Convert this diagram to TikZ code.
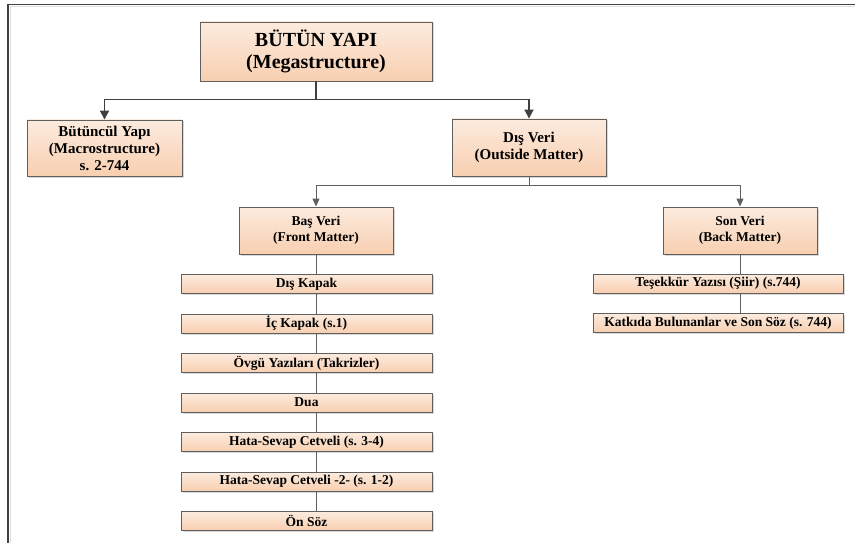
\documentclass[tikz,border=0pt]{standalone}
\usepackage{fontspec}
\setmainfont{Liberation Serif}
\usetikzlibrary{arrows.meta,positioning,shadows,calc}
\definecolor{yapiPeachTop}{RGB}{252,235,222}
\definecolor{yapiPeachBottom}{RGB}{248,207,176}
\definecolor{yapiLine}{RGB}{64,64,64}
\definecolor{yapiEdge}{RGB}{95,95,95}

\begin{document}
\begin{tikzpicture}[x=1pt, y=-1pt,
  node distance=19.6pt,
  box/.style={draw=yapiEdge, line width=0.9pt, top color=yapiPeachTop,
              bottom color=yapiPeachBottom, align=center, inner sep=0pt,
              drop shadow={shadow xshift=1.5pt, shadow yshift=-1.5pt,
                           fill=black!30, opacity=0.5}},
  part/.style={box, minimum width=154pt, minimum height=47pt,
               font=\bfseries\fontsize{13.5}{16.5}\selectfont},
  item/.style={box, minimum height=19pt,
               font=\bfseries\fontsize{13.5}{16}\selectfont},
  trunk/.style={draw=yapiLine, line width=1.8pt},
  branch/.style={draw=yapiEdge, line width=0.9pt},
  arrow/.style={-{Triangle[length=8pt, width=7pt]}},
  bigarrow/.style={-{Triangle[length=9pt, width=9pt]}}
]
\useasboundingbox (0,0) rectangle (855,543);
% frame
\draw[black!12, line width=1pt] (10.5,543) -- (10.5,7) -- (855,7);
\draw[yapiLine, line width=1.5pt] (8,543) -- (8,4.5) -- (855,4.5);

% upper levels
\node[box, minimum width=232pt, minimum height=59pt,
      font=\bfseries\fontsize{20}{22.5}\selectfont] (mega) at (316,51.5)
      {BÜTÜN YAPI\\(Megastructure)};
\node[box, minimum width=155pt, minimum height=56pt,
      font=\bfseries\fontsize{15}{17}\selectfont] (macro) at (104.5,148)
      {Bütüncül Yapı\\(Macrostructure)\\s. 2-744};
\node[box, minimum width=154pt, minimum height=57pt,
      font=\bfseries\fontsize{15}{17}\selectfont] (outside) at (529,147.5)
      {Dış Veri\\(Outside Matter)};
\node[part] (front) at (316,230.5) {Baş Veri\\(Front Matter)};
\node[part] (back) at (740,230.5) {Son Veri\\(Back Matter)};

% front matter items
\node[item, minimum width=251pt] (diskapak) at (306.5,284) {Dış Kapak};
\node[item, minimum width=251pt, below=of diskapak] (ickapak) {İç Kapak (s.1)};
\node[item, minimum width=251pt, below=of ickapak] (ovgu) {Övgü Yazıları (Takrizler)};
\node[item, minimum width=251pt, below=of ovgu] (dua) {Dua};
\node[item, minimum width=251pt, below=of dua] (hata) {Hata-Sevap Cetveli (s. 3-4)};
\node[item, minimum width=251pt, below=of hata] (hataiki) {Hata-Sevap Cetveli -2- (s. 1-2)};
\node[item, minimum width=251pt, below=of hataiki] (onsoz) {Ön Söz};

% back matter items
\node[item, minimum width=250pt] (tesekkur) at (718,283.5) {Teşekkür Yazısı (Şiir) (s.744)};
\node[item, minimum width=250pt, below=of tesekkur] (katkida) {Katkıda Bulunanlar ve Son Söz (s. 744)};

% connectors
\draw[trunk] (mega.south) -- ++(0,18) coordinate (split);
\draw[trunk, bigarrow] (split) -| (macro.north);
\draw[trunk, bigarrow] (split) -| (outside.north);
\draw[branch] (outside.south) -- ++(0,9) coordinate (splitout);
\draw[branch, arrow] (splitout) -| (front.north);
\draw[branch, arrow] (splitout) -| (back.north);

\draw[branch] (front.south) -- (front.south |- diskapak.north);
\foreach \a/\b in {diskapak/ickapak, ickapak/ovgu, ovgu/dua, dua/hata,
                   hata/hataiki, hataiki/onsoz}
  \draw[branch] (\a.south -| front.south) -- (\b.north -| front.south);
\draw[branch] (back.south) -- (back.south |- tesekkur.north);
\draw[branch] (tesekkur.south -| back.south) -- (katkida.north -| back.south);
\end{tikzpicture}
\end{document}
